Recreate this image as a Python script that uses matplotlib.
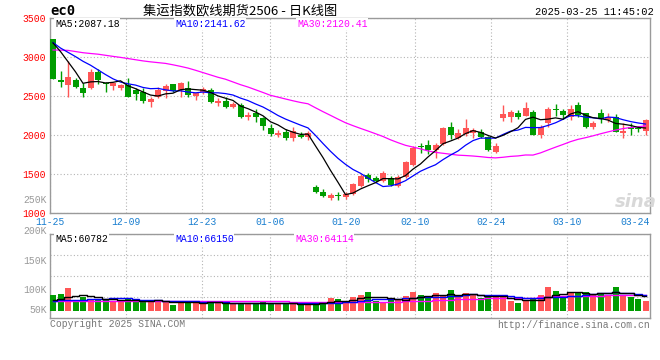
import matplotlib
matplotlib.use("Agg")
import numpy as np
import matplotlib.pyplot as plt

# ---- data ----
open_ = [3231, 2700, 2641, 2705, 2607, 2598, 2808, 2662, 2632, 2607,
         2641, 2577, 2555, 2427, 2492, 2568, 2654, 2577, 2607, 2504,
         2552, 2577, 2414, 2436, 2363, 2385, 2227, 2278, 2214, 2094,
         2000, 2043, 1966, 1996, 1970, 1337, 1269, 1196, 1231, 1209,
         1240, 1350, 1487, 1453, 1415, 1444, 1346, 1458, 1615, 1859,
         1872, 1808, 1885, 2107, 1966, 2009, 2030, 2043, 1970, 1786,
         2222, 2235, 2278, 2248, 2291, 2000, 2150, 2329, 2312, 2227,
         2385, 2278, 2107, 2286, 2192, 2235, 2021, 2098, 2086, 2055]
close = [2722, 2685, 2744, 2620, 2543, 2812, 2710, 2650, 2662, 2641,
         2492, 2526, 2440, 2462, 2577, 2632, 2568, 2662, 2513, 2535,
         2592, 2427, 2440, 2363, 2393, 2235, 2256, 2227, 2119, 2013,
         2030, 1966, 2051, 1980, 2030, 1273, 1218, 1231, 1215, 1244,
         1372, 1478, 1436, 1415, 1509, 1359, 1466, 1650, 1829, 1840,
         1808, 1872, 2094, 2000, 2030, 2094, 2064, 1978, 1808, 1859,
         2269, 2295, 2235, 2342, 2000, 2107, 2333, 2316, 2256, 2333,
         2256, 2107, 2158, 2201, 2235, 2043, 2055, 2081, 2077, 2192]
high = [3231, 2820, 2949, 2730, 2671, 2840, 2840, 2683, 2683, 2650,
        2735, 2598, 2598, 2492, 2620, 2650, 2654, 2683, 2697, 2540,
        2620, 2603, 2480, 2483, 2427, 2406, 2290, 2333, 2235, 2136,
        2064, 2081, 2098, 2043, 2056, 1363, 1303, 1260, 1273, 1269,
        1380, 1500, 1517, 1478, 1543, 1470, 1487, 1667, 1863, 1893,
        1936, 1893, 2107, 2167, 2073, 2210, 2085, 2073, 1983, 1893,
        2385, 2316, 2316, 2427, 2320, 2128, 2363, 2393, 2333, 2385,
        2427, 2286, 2184, 2329, 2278, 2265, 2150, 2150, 2120, 2210]
low = [2722, 2620, 2492, 2600, 2492, 2590, 2660, 2555, 2575, 2575,
       2492, 2449, 2406, 2365, 2470, 2470, 2550, 2492, 2492, 2449,
       2521, 2404, 2378, 2342, 2342, 2222, 2192, 2171, 2061, 1987,
       1974, 1940, 1923, 1957, 1940, 1260, 1201, 1170, 1170, 1183,
       1235, 1338, 1402, 1393, 1402, 1346, 1333, 1449, 1603, 1765,
       1757, 1705, 1872, 1944, 1944, 1983, 1957, 1965, 1795, 1765,
       2184, 2170, 2205, 2244, 2000, 1957, 2107, 2248, 2200, 2192,
       2235, 2085, 2077, 2158, 2162, 2034, 1957, 2000, 2034, 2000]
volume = [64000, 68000, 92000, 41000, 57000, 48000, 44000, 44000, 40000, 36000,
          48000, 44000, 37000, 40000, 44000, 36000, 24000, 40000, 37000, 36000,
          33000, 33000, 32000, 32000, 28000, 33000, 28000, 33000, 36000, 28000,
          28000, 28000, 33000, 28000, 28000, 32000, 32000, 52000, 48000, 36000,
          57000, 64000, 76000, 41000, 36000, 44000, 44000, 61000, 76000, 64000,
          55000, 71000, 63000, 84000, 55000, 71000, 68000, 51000, 60000, 57000,
          57000, 41000, 33000, 41000, 47000, 64000, 97000, 80000, 61000, 71000,
          76000, 76000, 64000, 71000, 64000, 97000, 64000, 57000, 48000, 40000]

# moving-average values before enough candles exist
ma5_head = [3180, 3070, 2940, 2810]
ma10_head = [3185, 3115, 3060, 3005, 2945, 2895, 2835, 2775, 2720]
ma30_head = [3090, 3088, 3085, 3070, 3055, 3045, 3036, 3022, 3008, 2995,
             2980, 2965, 2950, 2938, 2928, 2918, 2900, 2880, 2858, 2830,
             2800, 2770, 2740, 2715, 2680, 2645, 2615, 2580, 2545]
vol_ma5_head = [46000, 50000, 56000, 62000]
vol_ma10_head = [42000, 43000, 44000, 45000, 46000, 47000, 48000, 49000, 51000]
vol_ma30_head = [40000, 40000, 40500, 40500, 40500, 41000, 41000, 41000, 41000, 41000,
                 41000, 41000, 41000, 41000, 41000, 41000, 40500, 40500, 40500, 40500,
                 40500, 40500, 41000, 41000, 41000, 41000, 41000, 41000, 41000]

date_labels = ["11-25", "12-09", "12-23", "01-06", "01-20", "02-10", "02-24", "03-10"]
date_idx = [0, 10, 20, 29, 39, 48, 58, 68]
last_label = "03-24"
price_ticks = [1000, 1500, 2000, 2500, 3000, 3500]
vol_labels = ["250K", "200K", "150K", "100K", "50K"]

title = "集运指数欧线期货2506 - 日K线图"
stamp = "2025-03-25 11:45:02"
ma_text = ["MA5:2087.18", "MA10:2141.62", "MA30:2120.41"]
vol_ma_text = ["MA5:60782", "MA10:66150", "MA30:64114"]

# ---- styling ----
RED = "#ff5656"
GREEN = "#009c00"
MA_COLORS = ["#000000", "#0000ff", "#ff00ff"]
GRID = "#b4b4b4"
BORDER = "#9a9a9a"
MONO = "Liberation Mono"
CJK = ["Noto Sans CJK SC", "DejaVu Sans"]
W, H = 660, 360
FS = 7


def px(x, y):
    return x / W, 1 - y / H


def moving_avg(vals, n, head):
    vals = np.asarray(vals, dtype=float)
    tail = [vals[i - n + 1:i + 1].mean() for i in range(n - 1, len(vals))]
    return np.array(list(head) + tail)


n = len(close)
x = np.arange(n)
up = np.array(close) >= np.array(open_)
colors = [RED if u else GREEN for u in up]

fig = plt.figure(figsize=(W / 100, H / 100), dpi=100)
fig.patch.set_facecolor("white")

ax = fig.add_axes([50 / W, 1 - 213 / H, 600 / W, 195 / H])
axv = fig.add_axes([50 / W, 1 - 318 / H, 600 / W, 84 / H])

# grid positions of the date ticks (sina spaces them slightly wider than candles)
grid_x = [i * 7.6 / 7.5 for i in date_idx]

for a in (ax, axv):
    a.set_xlim(0, n)
    a.set_xticks(grid_x)
    a.tick_params(length=0)
    a.grid(True, color=GRID, linestyle=(0, (1, 2)), linewidth=0.8)
    a.set_axisbelow(True)
    for s in a.spines.values():
        s.set_color(BORDER)
        s.set_linewidth(1)

# ---- price panel ----
ax.set_ylim(1000, 3500)
ax.set_yticks(price_ticks)
ax.set_yticklabels([str(t) for t in price_ticks], color="#ff0000",
                   fontfamily=MONO, fontsize=FS)
ax.tick_params(axis="y", pad=3)
ax.set_xticklabels([])

ax.vlines(x + 0.4, low, high, colors=colors, linewidth=1)
body_lo = np.minimum(open_, close)
body_h = np.maximum(np.abs(np.array(close) - np.array(open_)), 8)
ax.bar(x, body_h, bottom=body_lo, width=0.8, align="edge", color=colors,
       linewidth=0, zorder=3)

ma5 = moving_avg(close, 5, ma5_head)
ma10 = moving_avg(close, 10, ma10_head)
ma30 = moving_avg(close, 30, ma30_head)
for line, c in zip([ma30, ma10, ma5], MA_COLORS[::-1]):
    ax.plot(x + 0.4, line, color=c, linewidth=0.9, zorder=4)

# ---- volume panel ----
vol_per_px = 4000
axv.set_ylim(-7 * vol_per_px, 77 * vol_per_px)
lo, hi = axv.get_ylim()
axv.set_yticks(np.linspace(lo, hi, 5))
axv.set_yticklabels([])
axv.set_xticklabels([])
axv.bar(x, volume, width=0.8, align="edge", color=colors, linewidth=0, zorder=3)

vma5 = moving_avg(volume, 5, vol_ma5_head)
vma10 = moving_avg(volume, 10, vol_ma10_head)
vma30 = moving_avg(volume, 30, vol_ma30_head)
for line, c in zip([vma30, vma10, vma5], MA_COLORS[::-1]):
    axv.plot(x + 0.4, line, color=c, linewidth=1.0, drawstyle="steps-mid", zorder=4)

# ---- texts ----
fig.text(*px(50, 11), "ec0", fontfamily="DejaVu Sans Mono", fontweight="bold",
         fontsize=10, va="center", ha="left")
fig.text(*px(240, 11), title, fontfamily=CJK, fontsize=9.5, va="center", ha="center")
fig.text(*px(654, 12), stamp, fontfamily=MONO, fontsize=7.5, va="center", ha="right")

bbox = dict(facecolor="white", edgecolor="none", pad=0.5)
for xx, t, c in zip([55, 175, 297], ma_text, MA_COLORS):
    fig.text(*px(xx, 24), t, fontfamily=MONO, fontsize=FS, color=c,
             va="center", ha="left", bbox=bbox)
for xx, t, c in zip([55, 175, 295], vol_ma_text, MA_COLORS):
    fig.text(*px(xx, 239), t, fontfamily=MONO, fontsize=FS, color=c,
             va="center", ha="left", bbox=bbox)

for lab, gx in zip(date_labels, grid_x):
    ax.text(gx, -0.048, lab, transform=ax.get_xaxis_transform(), fontfamily=MONO,
            fontsize=FS, color="#1a7fd0", ha="center", va="center")
ax.text(n, -0.048, last_label, transform=ax.get_xaxis_transform(), fontfamily=MONO,
        fontsize=FS, color="#1a7fd0", ha="right", va="center")

for lab, yy in zip(vol_labels, [200, 231, 261, 290, 310]):
    fig.text(*px(47, yy), lab, fontfamily=MONO, fontsize=FS, color="#9a9a9a",
             va="center", ha="right")

fig.text(*px(50, 324), "Copyright 2025 SINA.COM", fontfamily=MONO, fontsize=FS,
         color="#777777", va="center", ha="left")
fig.text(*px(650, 325), "http://finance.sina.com.cn", fontfamily=MONO, fontsize=FS,
         color="#777777", va="center", ha="right")
fig.text(*px(636, 202), "sina", fontfamily="DejaVu Sans", fontsize=13,
         fontweight="bold", style="italic", color="#d8d8d8", va="center", ha="center")

fig.savefig("out.png", dpi=100, facecolor="white")
